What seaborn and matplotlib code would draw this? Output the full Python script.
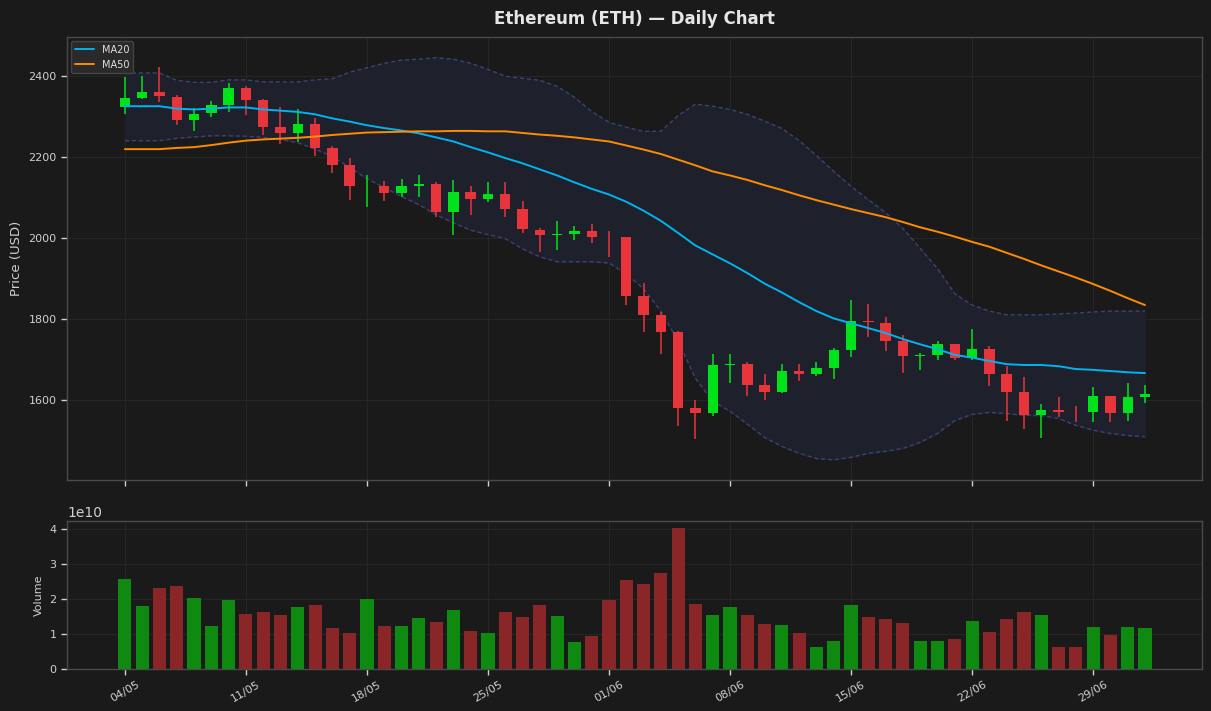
import numpy as np
import pandas as pd
import matplotlib
matplotlib.use("Agg")
import matplotlib.pyplot as plt
import seaborn as sns

# ---------------- data ----------------
dates = pd.date_range("2024-05-04", periods=60, freq="D")

opens = [2324, 2346, 2360, 2350, 2292, 2309, 2329, 2370, 2341, 2274,
         2260, 2281, 2224, 2180, 2121, 2128, 2111, 2128, 2133, 2066,
         2115, 2098, 2110, 2071, 2021, 2008, 2011, 2019, 2003, 2003,
         1858, 1811, 1769, 1580, 1568, 1687, 1689, 1637, 1621, 1672,
         1665, 1679, 1724, 1796, 1791, 1746, 1709, 1711, 1739, 1704,
         1726, 1664, 1620, 1563, 1575, 1571, 1570, 1610, 1568, 1607]
highs = [2398, 2400, 2422, 2353, 2321, 2338, 2383, 2375, 2343, 2323,
         2318, 2298, 2229, 2198, 2155, 2142, 2147, 2155, 2140, 2145,
         2128, 2138, 2138, 2093, 2026, 2043, 2029, 2034, 2019, 2004,
         1890, 1818, 1771, 1600, 1714, 1714, 1694, 1665, 1689, 1689,
         1694, 1729, 1848, 1838, 1806, 1761, 1717, 1746, 1739, 1776,
         1734, 1684, 1657, 1590, 1607, 1585, 1632, 1610, 1642, 1637]
lows = [2308, 2343, 2336, 2279, 2265, 2299, 2312, 2304, 2254, 2232,
        2237, 2202, 2160, 2095, 2076, 2091, 2101, 2101, 2053, 2009,
        2058, 2089, 2052, 2012, 1965, 1971, 1996, 1989, 1954, 1835,
        1768, 1714, 1536, 1504, 1561, 1643, 1611, 1601, 1618, 1648,
        1659, 1652, 1706, 1757, 1721, 1667, 1674, 1699, 1699, 1699,
        1635, 1548, 1528, 1506, 1558, 1545, 1546, 1546, 1548, 1593]
closes = [2346, 2360, 2351, 2292, 2308, 2328, 2370, 2341, 2274, 2260,
          2281, 2224, 2180, 2128, 2121.5, 2111, 2128, 2133, 2066, 2115,
          2098, 2110, 2071, 2022, 2007, 2011, 2019, 2004, 2002.5, 1858,
          1811, 1769, 1580, 1568, 1687, 1689, 1638, 1621, 1672, 1665,
          1679, 1724, 1796, 1793, 1746, 1709, 1711, 1739, 1704, 1726,
          1664, 1620, 1563, 1575, 1570, 1570.5, 1610, 1568, 1607, 1615]

ma20 = [2326, 2326, 2326, 2320, 2318, 2320, 2323, 2323, 2318, 2315,
        2312, 2306, 2296, 2288, 2279, 2272, 2266, 2259, 2249, 2239,
        2225, 2212, 2198, 2185, 2170, 2155, 2138, 2122, 2108, 2090,
        2068, 2043, 2013, 1982, 1960, 1938, 1914, 1888, 1866, 1842,
        1820, 1802, 1790, 1778, 1766, 1751, 1738, 1726, 1712, 1705,
        1697, 1689, 1687, 1687, 1684, 1677, 1675, 1672, 1669, 1667]
ma50 = [2220, 2220, 2220, 2223, 2225, 2230, 2236, 2241, 2244, 2246,
        2248, 2251, 2255, 2258, 2261, 2262, 2263, 2264, 2264, 2265,
        2265, 2264, 2264, 2260, 2256, 2253, 2249, 2244, 2239, 2229,
        2219, 2208, 2194, 2180, 2165, 2155, 2144, 2131, 2119, 2106,
        2094, 2083, 2072, 2062, 2052, 2040, 2027, 2016, 2004, 1991,
        1979, 1964, 1949, 1933, 1918, 1903, 1887, 1870, 1852, 1835]
bb_upper = [2408, 2408, 2408, 2390, 2385, 2385, 2391, 2391, 2386, 2386,
            2386, 2391, 2394, 2410, 2421, 2432, 2440, 2442, 2446, 2442,
            2432, 2417, 2400, 2395, 2390, 2375, 2348, 2313, 2286, 2274,
            2264, 2264, 2303, 2331, 2326, 2318, 2306, 2289, 2271, 2241,
            2204, 2165, 2128, 2095, 2063, 2024, 1975, 1925, 1863, 1835,
            1820, 1811, 1811, 1811, 1813, 1815, 1818, 1820, 1820, 1820]
bb_lower = [2241, 2241, 2241, 2247, 2250, 2253, 2253, 2252, 2249, 2244,
            2236, 2220, 2202, 2175, 2147, 2125, 2103, 2083, 2058, 2038,
            2020, 2009, 1999, 1974, 1954, 1942, 1942, 1942, 1939, 1912,
            1875, 1820, 1746, 1654, 1597, 1573, 1541, 1508, 1486, 1469,
            1456, 1453, 1459, 1469, 1474, 1481, 1496, 1518, 1550, 1565,
            1570, 1567, 1563, 1562, 1555, 1538, 1526, 1518, 1513, 1510]

volume_e10 = [2.58, 1.81, 2.32, 2.38, 2.04, 1.24, 1.98, 1.58, 1.64, 1.55,
              1.78, 1.84, 1.18, 1.04, 2.01, 1.24, 1.24, 1.47, 1.35, 1.70,
              1.10, 1.04, 1.64, 1.50, 1.84, 1.52, 0.78, 0.95, 1.98, 2.55,
              2.44, 2.75, 4.04, 1.87, 1.55, 1.78, 1.55, 1.30, 1.27, 1.04,
              0.64, 0.81, 1.84, 1.50, 1.44, 1.32, 0.81, 0.81, 0.87, 1.38,
              1.07, 1.44, 1.64, 1.55, 0.64, 0.64, 1.21, 0.98, 1.21, 1.18]

# ---------------- style ----------------
BG = "#1a1a1a"
sns.set_theme(style="dark", rc={
    "figure.facecolor": BG, "axes.facecolor": BG, "axes.edgecolor": "#4a4a4a",
    "axes.labelcolor": "#d0d0d0", "xtick.color": "#d0d0d0", "ytick.color": "#d0d0d0",
    "text.color": "#d0d0d0", "grid.color": "#2b2b2b",
})
plt.rcParams["font.family"] = ["DejaVu Sans"]

df = pd.DataFrame({"date": dates, "open": opens, "high": highs, "low": lows,
                   "close": closes, "ma20": ma20, "ma50": ma50,
                   "upper": bb_upper, "lower": bb_lower,
                   "volume": np.array(volume_e10) * 1e10})
df["idx"] = np.arange(len(df))
df["up"] = df["close"] >= df["open"]

fig = plt.figure(figsize=(12.11, 7.11), dpi=100)
ax = fig.add_axes([0.0553, 0.3249, 0.9373, 0.6231])
axv = fig.add_axes([0.0553, 0.0591, 0.9373, 0.2081])

GREEN = "#00e31a"
RED = "#e8353c"

# Bollinger band
ax.fill_between(df["idx"], df["lower"], df["upper"], color="#1e202b", zorder=1)
ax.plot(df["idx"], df["upper"], color="#3d4272", lw=1.0, ls=(0, (3, 2)), zorder=2)
ax.plot(df["idx"], df["lower"], color="#3d4272", lw=1.0, ls=(0, (3, 2)), zorder=2)

# candles
colors = np.where(df["up"], GREEN, RED)
ax.vlines(df["idx"], df["low"], df["high"], colors=colors, lw=1.1, zorder=3)
body_bottom = np.minimum(df["open"], df["close"])
body_h = np.abs(df["close"] - df["open"])
ax.bar(df["idx"], body_h, bottom=body_bottom, width=0.6, color=colors,
       edgecolor="none", zorder=4)

# moving averages
sns.lineplot(data=df, x="idx", y="ma20", ax=ax, color="#00b4f0", lw=1.4,
             label="MA20", zorder=5)
sns.lineplot(data=df, x="idx", y="ma50", ax=ax, color="#ff8c00", lw=1.4,
             label="MA50", zorder=5)

xlim = (-3.35, 62.3)
ticks = list(range(0, 60, 7))
tick_labels = [d.strftime("%d/%m") for d in df["date"].iloc[ticks]]

ax.set_xlim(*xlim)
ax.set_ylim(1403, 2497)
ax.set_yticks([1600, 1800, 2000, 2200, 2400])
ax.set_xticks(ticks)
ax.set_xticklabels([])
ax.set_xlabel("")
ax.set_ylabel("Price (USD)", fontsize=9.5)
ax.grid(True, color="#262626", lw=0.8)
ax.tick_params(axis="both", labelsize=8, length=4, width=1, colors="#d0d0d0",
               bottom=True, left=True)
ax.set_title("Ethereum (ETH) — Daily Chart", fontsize=12, fontweight="bold",
             color="#e6e6e6", pad=9)
leg = ax.legend(loc="upper left", fontsize=7, facecolor="#2a2a2a",
                edgecolor="#444444", framealpha=1.0, borderaxespad=0.4)
for t in leg.get_texts():
    t.set_color("#e0e0e0")

# volume
vol_palette = {True: "#0f8a10", False: "#8b2628"}
sns.barplot(data=df, x="idx", y="volume", hue="up", palette=vol_palette,
            native_scale=True, width=0.76, dodge=False, legend=False,
            saturation=1, edgecolor="none", linewidth=0, ax=axv, zorder=3)
axv.set_xlim(*xlim)
axv.set_ylim(0, 4.23e10)
axv.set_xticks(ticks)
axv.set_xticklabels(tick_labels, rotation=30, fontsize=7.5)
axv.set_xlabel("")
axv.set_ylabel("Volume", fontsize=8)
axv.grid(True, color="#262626", lw=0.8)
axv.tick_params(axis="both", labelsize=8, length=4, width=1, colors="#d0d0d0",
                bottom=True, left=True)
axv.yaxis.get_offset_text().set_fontsize(10)
axv.yaxis.get_offset_text().set_color("#d0d0d0")

for a in (ax, axv):
    for s in a.spines.values():
        s.set_color("#4a4a4a")
        s.set_linewidth(1)

fig.savefig("out.png", dpi=100, facecolor=BG)
